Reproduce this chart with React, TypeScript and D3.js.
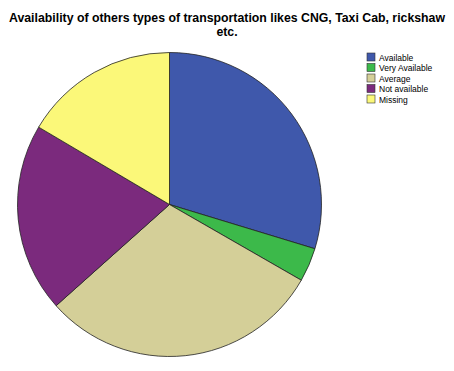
import React from "react";
import * as d3 from "d3";

const categories = ["Available", "Very Available", "Average", "Not available", "Missing"];
const values = [29.7, 3.6, 30.1, 20.1, 16.5];
const colors = ["#3f58ab", "#3cb94a", "#d4cf98", "#7b2a7d", "#fbf879"];
const titleLines = ["Availability of others types of transportation likes CNG, Taxi Cab, rickshaw", "etc."];

const App = () => {
	const width = 454;
	const height = 371;
	const cx = 169.5;
	const cy = 204.5;
	const radius = 152;

	const pie = d3.pie<number>().sort(null).value(d => d);
	const arcs = pie(values);
	const arc = d3.arc<d3.PieArcDatum<number>>().innerRadius(0).outerRadius(radius);

	return (
		<svg width={width} height={height} style={{ position: "absolute", left: 0, top: 0, background: "#fff" }}>
			<g fontFamily="Arial, 'Liberation Sans', sans-serif" fontWeight="bold" fontSize="12.3px" textAnchor="middle">
				{titleLines.map((t, i) => (
					<text key={i} x={227} y={22 + i * 14}>{t}</text>
				))}
			</g>
			<g transform={`translate(${cx}, ${cy})`}>
				{arcs.map((a, i) => (
					<path key={i} d={arc(a) || ""} fill={colors[i]} stroke="#222" strokeWidth={0.8} />
				))}
			</g>
			<g fontFamily="Arial, 'Liberation Sans', sans-serif" fontSize="8.5px">
				{categories.map((c, i) => (
					<g key={c} transform={`translate(367, ${53 + i * 10.5})`}>
						<rect x={0} y={0} width={8} height={8} fill={colors[i]} stroke="#333" strokeWidth={0.6} />
						<text x={12} y={7.5}>{c}</text>
					</g>
				))}
			</g>
		</svg>
	);
};

export default App;
